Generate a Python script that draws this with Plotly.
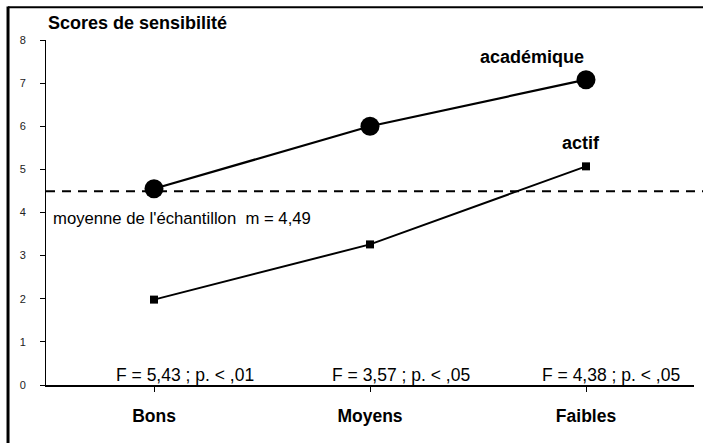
import plotly.graph_objects as go

categories = ["Bons", "Moyens", "Faibles"]
academique = [4.55, 6.0, 7.08]
actif = [1.98, 3.26, 5.07]
moyenne = 4.49
f_labels = ["F = 5,43 ; p. < ,01", "F = 3,57 ; p. < ,05", "F = 4,38 ; p. < ,05"]
y_ticks = [0, 1, 2, 3, 4, 5, 6, 7, 8]

FONT = "Liberation Sans, Arial, sans-serif"

fig = go.Figure()
fig.add_trace(go.Scatter(x=[0, 1, 2], y=academique, mode="lines+markers",
                         line=dict(color="black", width=2.2),
                         marker=dict(symbol="circle", size=19, color="black"),
                         showlegend=False, hoverinfo="skip"))
fig.add_trace(go.Scatter(x=[0, 1, 2], y=actif, mode="lines+markers",
                         line=dict(color="black", width=2),
                         marker=dict(symbol="square", size=8, color="black"),
                         showlegend=False, hoverinfo="skip"))

shapes = [
    dict(type="line", xref="paper", yref="y", x0=0, x1=1.02, y0=moyenne, y1=moyenne,
         line=dict(color="black", width=2, dash="9px,7px")),
    dict(type="line", xref="paper", yref="paper", x0=-0.0586, x1=-0.0586, y0=-0.2, y1=1.097,
         line=dict(color="black", width=3)),
    dict(type="line", xref="paper", yref="paper", x0=-0.0586, x1=1.02, y0=1.095, y1=1.095,
         line=dict(color="black", width=2)),
]

annotations = [
    dict(text="<b>Scores de sensibilité</b>", xref="paper", yref="paper", x=0.0, y=1.05,
         xanchor="left", yanchor="middle", showarrow=False,
         font=dict(family=FONT, size=18, color="black")),
    dict(text="<b>académique</b>", xref="x", yref="y", x=1.752, y=7.61, showarrow=False,
         xanchor="center", yanchor="middle", font=dict(family=FONT, size=18, color="black")),
    dict(text="<b>actif</b>", xref="x", yref="y", x=1.978, y=5.61, showarrow=False,
         xanchor="center", yanchor="middle", font=dict(family=FONT, size=18, color="black")),
    dict(text="moyenne de l'échantillon  m = 4,49", xref="paper", yref="y", x=0.008, y=3.87,
         xanchor="left", yanchor="middle", showarrow=False,
         font=dict(family=FONT, size=16.7, color="black")),
]
for i, t in enumerate(f_labels):
    annotations.append(dict(text=t, xref="x", yref="y", x=i + [0.145, 0.143, 0.115][i], y=0.23,
                            xanchor="center", yanchor="middle", showarrow=False,
                            font=dict(family=FONT, size=17.5, color="black")))

fig.update_layout(
    width=703, height=443,
    margin=dict(l=46, r=9, t=40, b=58),
    paper_bgcolor="white", plot_bgcolor="white",
    shapes=shapes, annotations=annotations,
    hovermode=False,
    xaxis=dict(range=[-0.5, 2.5], tickvals=[0, 1, 2],
               ticktext=["<b>" + c + "</b>" for c in categories],
               tickson="boundaries", ticks="outside", ticklen=5, tickcolor="black",
               showline=True, linecolor="black", linewidth=1.5, showgrid=False,
               zeroline=False, tickfont=dict(family=FONT, size=17.5, color="black"),
               ticklabelstandoff=9),
    yaxis=dict(range=[0, 8], tickvals=y_ticks, ticks="outside", ticklen=5, tickcolor="black",
               showline=True, linecolor="black", linewidth=1, showgrid=False, zeroline=False,
               tickfont=dict(family=FONT, size=11, color="#222"), ticklabelstandoff=12),
)

fig.write_html("out.html", config={"displayModeBar": False},
               post_script="document.body.style.margin='0';")
